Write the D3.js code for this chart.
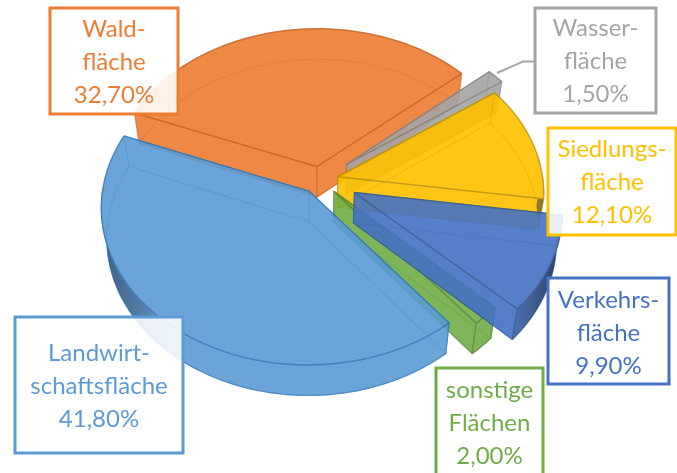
<!DOCTYPE html>
<html><head><meta charset="utf-8">
<script src="https://cdn.jsdelivr.net/npm/d3@7"></script>
<style>html,body{margin:0;padding:0;background:#fff}svg{display:block}</style>
</head><body><div id="c"></div>
<script>
const categories = ["Landwirtschaftsfläche","Waldfläche","Wasserfläche","Siedlungsfläche","Verkehrsfläche","sonstige Flächen"];
const shares = [41.8,32.7,1.5,12.1,9.9,2.0];
const explodeFractions = [0.09,0.09,0.167,0.09,0.185,0.10];
const labelLines = [["Landwirt-","schaftsfläche","41,80%"],["Wald-","fläche","32,70%"],["Wasser-","fläche","1,50%"],["Siedlungs-","fläche","12,10%"],["Verkehrs-","fläche","9,90%"],["sonstige","Flächen","2,00%"]];
const sliceColors = ["#5B9BD5","#ED7D31","#A5A5A5","#FFC000","#4472C4","#70AD47"];
const edgeColors = ["#2E75B6","#C55A11","#7f7f7f","#BF9000","#2F5597","#548235"];
const labelBoxes = [[15,317,168,136,361],[50,8,128,106,37],[535,8,121,105,36],[548,128,128,107,157],[548,278,121,106,308],[436,368,107,120,398]];

const W=677,H=473,cx=320,cy=180,R=205,K=0.751,persp=0.0997,depth=30.5,shrink=0.975;
const svg=d3.select("#c").append("svg").attr("width",W).attr("height",H);
const defs=svg.append("defs");
const g=defs.append("linearGradient").attr("id","sideShade").attr("gradientUnits","userSpaceOnUse").attr("x1",100).attr("x2",560).attr("y1",0).attr("y2",0);
[[0,.6],[.07,.4],[.17,0],[.87,0],[.93,.35],[.985,.7]].forEach(([o,a])=>g.append("stop").attr("offset",o).attr("stop-color","#0c1a30").attr("stop-opacity",a));
defs.append("filter").attr("id","soft").attr("x",0).attr("y",0).attr("width",1).attr("height",1).attr("filterUnits","objectBoundingBox").append("feGaussianBlur").attr("stdDeviation",0.45);
const root=svg.append("g").attr("filter","url(#soft)");
root.append("rect").attr("width",W).attr("height",H).attr("fill","#fff");

const toRad=d=>d*Math.PI/180;
const pie=d3.pie().sort(null).startAngle(toRad(141)).endAngle(toRad(141)+2*Math.PI);
const arcs=pie(shares);
const line=d3.line().x(d=>d[0]).y(d=>d[1]);

function project(u,v,low){
  const s=1/(1-persp*v);
  let x=cx+R*u*s,y=cy+R*K*v*s;
  if(low){x=cx+(x-cx)*shrink;y=y+depth;}
  return [x,y];
}
const order=[1,2,3,5,4,0];
order.forEach(i=>{
  const a=arcs[i],mid=(a.startAngle+a.endAngle)/2,E=explodeFractions[i];
  const ox=E*Math.sin(mid),oy=-E*Math.cos(mid);
  const pt=(t,low,r=1)=>project(ox+r*Math.sin(t),oy-r*Math.cos(t),low);
  const n=Math.max(6,Math.round((a.endAngle-a.startAngle)*40));
  const ts=d3.range(n+1).map(j=>a.startAngle+(a.endAngle-a.startAngle)*j/n);
  const topArc=ts.map(t=>pt(t,false)),lowArc=ts.map(t=>pt(t,true));
  const apexT=pt(0,false,0),apexL=pt(0,true,0);
  const col=sliceColors[i],edge=edgeColors[i];
  const sg=root.append("g").attr("opacity",0.9);
  const face=(pts,filled,so,sw,closed=true)=>sg.append("path").attr("d",line(pts)+(closed?"Z":"")).attr("fill",filled?col:"none").attr("stroke",edge).attr("stroke-opacity",so).attr("stroke-width",sw).attr("stroke-linejoin","round");
  face([apexL,...lowArc],true,0.4,1.2);
  face([apexT,topArc[0],lowArc[0],apexL],true,0.6,1.2);
  face([apexT,topArc[n],lowArc[n],apexL],true,0.6,1.2);
  const front=ts.filter(t=>Math.cos(t)<0.02);
  if(front.length>1){
    const rim=[...front.map(t=>pt(t,false)),...front.slice().reverse().map(t=>pt(t,true))];
    face(rim,true,0.7,1.2);
    sg.append("path").attr("d",line(rim)+"Z").attr("fill","url(#sideShade)").attr("stroke","none");
  }
  face([apexT,...topArc],true,0.9,1.5);
  // faint edges seen through the translucent top
  face([apexL,...lowArc],false,0.28,1.1);
  face([apexT,apexL],false,0.28,1.1,false);
  face([topArc[0],lowArc[0]],false,0.28,1.1,false);
  face([topArc[n],lowArc[n]],false,0.28,1.1,false);
});

root.append("path").attr("d",line([[535,61.5],[523,61.5],[497,73]])).attr("fill","none").attr("stroke","#A5A5A5").attr("stroke-width",2);

labelBoxes.forEach((b,i)=>{
  const [x,y,w,h,base]=b;
  root.append("rect").attr("x",x).attr("y",y).attr("width",w).attr("height",h).attr("fill","#fff").attr("fill-opacity",0.88).attr("stroke",sliceColors[i]).attr("stroke-width",3);
  labelLines[i].forEach((t,j)=>{
    root.append("text").attr("x",x+w/2).attr("y",base+j*33).attr("text-anchor","middle").attr("font-family","Lato, 'Open Sans', sans-serif").attr("font-size",24).attr("fill",sliceColors[i]).text(t);
  });
});
</script></body></html>
